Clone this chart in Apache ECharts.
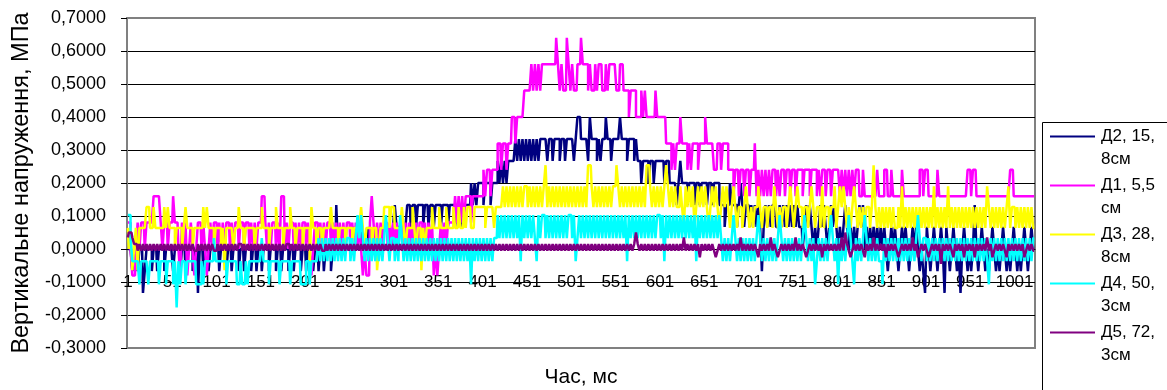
<!DOCTYPE html>
<html>
<head>
<meta charset="utf-8">
<script src="https://cdn.jsdelivr.net/npm/echarts@6/dist/echarts.min.js"></script>
<style>
  html, body { margin: 0; padding: 0; background: #fff; }
  #chart { width: 1167px; height: 390px; }
</style>
</head>
<body>
<div id="chart"></div>
<script>
// time axis, ms (every 2nd sample: 1, 3, 5 ... 1023)
const timeMs = [];
for (let t = 1; t <= 1023; t += 2) timeMs.push(String(t));

// sensor readings are quantised: each trace character is an index into its level list (MPa)
const d1Levels = [-0.08, 0, 0.08, 0.16, 0.24, 0.32, 0.40, 0.48, 0.56, 0.64];
const d2Levels = [-0.133, -0.067, 0, 0.067, 0.133, 0.2, 0.267, 0.333, 0.4];
const d3Levels = [-0.127, -0.064, 0, 0.064, 0.127, 0.19, 0.254];
const d4Levels = [-0.177, -0.107, -0.037, 0.033, 0.103];
const d5Levels = [-0.045, -0.025, -0.005, 0.015, 0.035, 0.05];

// one line = 50 ms, one group = 10 ms
const d2Trace = `
22212 21220 12221 22122 21222
21222 12212 22122 02212 21222
22122 21221 22212 21222 12212
21222 12221 22122 21221 22212
21222 12212 21222 12242 22322
22232 22322 23222 32223 22232
34333 32344 34434 44344 34434
44344 43444 34434 44445 45455
54555 45556 56565 66667 67676
76767 67677 77677 67776 77677
77678 87777 68777 67677 87767
77787 77677 76766 56665 66566
66656 65555 45655 54555 45545
55455 45554 44344 54443 45434
43434 34313 43434 43343 43434
34343 32343 43232 34343 23434
32323 43232 32343 42323 23232
32321 23232 12323 21232 32121
03212 32123 20321 23212 02321
21242 12321 21232 12123 21212
32121 23212 32`;

const d1Trace = `
22100 12122 12222 33332 12212
23221 02120 12101 22121 01212
21212 12212 12212 21221 21212
23321 21221 21331 21221 21212
21210 12212 12122 12121 21212
21212 12101 00232 12121 22121
21212 21212 12121 22121 21201
01212 12222 32323 23332 33333
34344 34445 54554 55665 66667
77787 87878 88888 88987 87798
78778 89888 78778 78877 87888
87788 77767 77666 76766 66676
66665 55454 55655 54545 55455
56555 54455 45554 44344 34434
43445 34343 43434 43434 43443
44344 43444 34443 43443 44344
44343 43434 34433 43333 33343
33443 34333 33433 33333 33443
44333 33433 33333 33333 33334
43443 33333 33333 33333 33344
33333 33333 33`;

const d3Trace = `
32312 31333 34433 43333 34343
33233 32343 33233 33343 43332
33323 13333 23343 32333 33233
34333 23334 33323 33433 23332
33314 33233 23333 43332 33323
33233 33432 33323 31233 44434
43333 43233 34323 31323 33433
34333 43334 33433 43443 34444
44344 44344 44545 45454 54545
54545 45454 56454 54545 45454
54545 45454 66545 45454 54545
56545 45454 54545 45466 54545
45456 54545 44543 54545 34545
45434 54543 45454 34543 44345
43434 45434 43443 54343 44345
43454 43443 45434 43534 43445
34545 43434 54343 43443 46434
34343 43433 43534 34343 43434
34343 53434 34353 43434 34343
43434 34343 54343 43434 34534
43434 34343 43`;

const d4Trace = `
44322 22122 22122 22212 22122
21202 12212 22221 11212 22223
22222 21222 22112 11212 22222
23222 12222 21222 22122 22211
12212 22232 32323 23232 32323
32323 43432 32323 23232 34323
32324 32323 23232 32323 23232
32323 23232 32323 23231 32323
23232 32334 34343 43434 34243
43434 32434 43434 34343 43434
43423 43434 34343 43434 34343
43434 34243 43434 34343 43434
43424 34343 43434 34343 42434
34343 43434 32323 23432 32323
23232 34323 23232 32343 23232
32323 23432 32312 32323 23432
31323 23432 13232 34323 23232
21323 23232 32323 23232 34323
32323 23232 32323 23232 32323
23232 32323 21323 23232 32323
23232 32323 23`;

const d5Trace = `
45543 32323 23232 32323 23232
32323 23232 32322 32323 23232
23232 32323 23233 23232 32323
23232 32323 23232 33232 32323
23232 32323 22323 23232 32323
23232 32323 23232 32323 23232
32323 23232 32323 23232 32323
23232 32323 23232 32323 23232
32323 23232 32323 23232 32323
23232 32323 23232 32323 23232
32323 23232 32323 23232 32323
23232 32323 23532 32323 23232
32323 23232 32324 23232 32313
23232 32123 23232 32323 24232
32323 21323 23242 32123 23232
32423 23212 32323 23132 32323
23242 53212 32323 21323 24232
32313 23232 12323 23242 31232
32123 23230 32323 21323 23132
32313 23232 42312 32323 21323
23232 31232 32`;

const decode = (trace, levels) => trace.replace(/\s+/g, '').split('').map(c => levels[+c]);

const seriesDefs = [
  { name: 'Д2, 15, 8см', label: ['Д2, 15,', '8см'], color: '#000080', data: decode(d2Trace, d2Levels) },
  { name: 'Д1, 5,5 см',  label: ['Д1, 5,5', 'см'],  color: '#FF00FF', data: decode(d1Trace, d1Levels) },
  { name: 'Д3, 28, 8см', label: ['Д3, 28,', '8см'], color: '#FFFF00', data: decode(d3Trace, d3Levels) },
  { name: 'Д4, 50, 3см', label: ['Д4, 50,', '3см'], color: '#00FFFF', data: decode(d4Trace, d4Levels) },
  { name: 'Д5, 72, 3см', label: ['Д5, 72,', '3см'], color: '#800080', data: decode(d5Trace, d5Levels) }
];

const font = 'Liberation Sans, Arial, sans-serif';

// legend: line swatch sits on the first text line, like the original
const legendRich = { t: { fontFamily: font, fontSize: 17, lineHeight: 23, color: '#000', padding: [0, 0, 0, 6] },
                     s: { width: 45, height: 1 } };
seriesDefs.forEach((s, i) => {
  legendRich['i' + i] = { width: 45, height: 2, backgroundColor: s.color };
});

const chart = echarts.init(document.getElementById('chart'));
chart.setOption({
  animation: false,
  grid: {
    left: 127, top: 18, right: 132, bottom: 42,
    outerBoundsMode: 'none',
    show: true, borderColor: '#808080', borderWidth: 2
  },
  legend: {
    orient: 'vertical',
    left: 1045, top: 125,
    padding: 0,
    itemGap: 3,
    itemWidth: 0, itemHeight: 0,
    icon: 'none',
    textStyle: { fontFamily: font, fontSize: 17, lineHeight: 23, color: '#000', rich: legendRich },
    formatter: name => {
      const i = seriesDefs.findIndex(s => s.name === name);
      const [a, b] = seriesDefs[i].label;
      return '{i' + i + '|}{t|' + a + '}\n{s|}{t|' + b + '}';
    },
    data: seriesDefs.map(s => s.name)
  },
  graphic: [{
    type: 'rect',
    shape: { x: 1042.5, y: 122.5, width: 150, height: 290 },
    style: { fill: 'none', stroke: '#000', lineWidth: 1 },
    silent: true
  }],
  xAxis: {
    type: 'category',
    data: timeMs,
    boundaryGap: true,
    position: 'bottom',
    offset: -99,   // category axis crosses the value axis at 0
    name: 'Час, мс',
    nameLocation: 'middle',
    nameGap: 118,
    nameTextStyle: { fontFamily: font, fontSize: 21, color: '#000' },
    axisLine: { onZero: false, lineStyle: { color: '#000', width: 1 } },
    axisTick: { show: false },
    axisLabel: { interval: 24, margin: 25, color: '#000', fontFamily: font, fontSize: 17 },
    splitLine: { show: false }
  },
  yAxis: {
    type: 'value',
    min: -0.3, max: 0.7, interval: 0.1,
    name: 'Вертикальне напруження, МПа',
    nameLocation: 'middle',
    nameGap: 93,
    nameTextStyle: { fontFamily: font, fontSize: 23.5, color: '#000' },
    axisLine: { show: true, onZero: false, lineStyle: { color: '#808080', width: 2 } },
    axisTick: { show: true, length: 6, lineStyle: { color: '#000' } },
    axisLabel: {
      margin: 21, color: '#000', fontFamily: font, fontSize: 18,
      formatter: v => (Math.abs(v) < 1e-9 ? 0 : v).toFixed(4).replace('.', ',')
    },
    splitLine: { showMinLine: false, showMaxLine: false, lineStyle: { color: '#000', width: 1 } }
  },
  series: seriesDefs.map(s => ({
    name: s.name,
    type: 'line',
    data: s.data,
    symbol: 'none',
    step: 'middle',
    color: s.color,
    lineStyle: { width: 2.5, color: s.color }
  }))
});
</script>
</body>
</html>
